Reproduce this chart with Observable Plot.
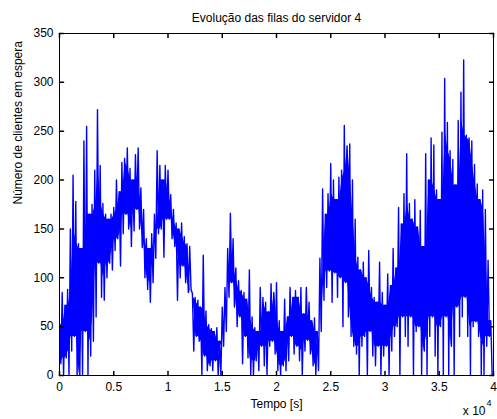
<!DOCTYPE html>
<html><head><meta charset="utf-8">
<script src="https://cdn.jsdelivr.net/npm/d3@7"></script>
<script src="https://cdn.jsdelivr.net/npm/@observablehq/plot@0.6"></script>
<style>html,body{margin:0;padding:0;background:#fff;} svg{display:block}</style>
</head><body><div id="chart"></div>
<script>
// Upper values of the queue per 250 s interval
const peakValues = [
  52, 85, 72, 88,   150, 205, 178, 135,   130, 240, 255, 165,   175, 210, 272, 215,
  176, 165, 160, 165,   172, 200, 188, 218,   222, 233, 212, 200,   226, 233, 192, 170,
  140, 130, 145, 165,   230, 215, 200, 215,   210, 185, 170, 156,   150, 156, 142, 135,
  132, 84, 80, 77,   70, 123, 66, 52,   48, 45, 49, 35,   70, 90, 130, 166,
  140, 110, 97, 87,   85, 78, 108, 60,   49, 45, 90, 80,   75, 65, 94, 85,
  95, 56, 45, 78,   60, 90, 80, 87,   80, 90, 63, 90,   75, 56, 59, 45,
  120, 191, 165, 186,   217, 200, 180, 203,   210, 256, 235, 237,   200, 160, 121, 108,
  116, 100, 128, 90,   80, 75, 116, 85,   72, 104, 92, 130,   110, 172, 155, 186,
  227, 176, 160, 180,   152, 169, 132, 227,   200, 243, 236, 190,   180, 249, 304, 259,
  230, 221, 195, 261,   290, 323, 246, 243,   240, 216, 196, 180,   190, 170, 118, 56
];
// Lower values of the queue per 250 s interval
const troughValues = [
  12, 0, 18, 0,   25, 40, 0, 0,   0, 45, 0, 20,   35, 60, 115, 80,
  77, 100, 115, 108,   128, 140, 112, 145,   165, 150, 132, 148,   170, 150, 131, 100,
  88, 75, 95, 120,   145, 150, 121, 160,   160, 140, 132, 77,   100, 112, 95, 85,
  88, 25, 40, 35,   0, 20, 5, 10,   5, 15, 0, 0,   30, 45, 80, 95,
  70, 50, 60, 12,   40, 18, 0, 0,   15, 5, 30, 10,   0, 30, 35, 22,
  5, 0, 10, 5,   15, 40, 22, 30,   15, 0, 25, 36,   22, 10, 0, 5,
  45, 77, 90, 107,   75, 105, 80, 100,   50, 95, 60, 40,   30, 22, 0, 30,
  40, 0, 45, 20,   10, 30, 0, 20,   30, 0, 25, 40,   50, 0, 60, 40,
  30, 60, 0, 45,   50, 0, 25, 0,   40, 60, 20, 0,   50, 0, 60, 0,
  30, 0, 70, 40,   60, 80, 40, 0,   50, 55, 40, 0,   0, 30, 40, 0
];
const stepSeconds = 250;

const xTicks = [0, 5000, 10000, 15000, 20000, 25000, 30000, 35000, 40000];
const xTickLabels = ["0", "0.5", "1", "1.5", "2", "2.5", "3", "3.5", "4"];
const yTicks = [0, 50, 100, 150, 200, 250, 300, 350];
const titleText = "Evolução das filas do servidor 4";
const xLabelText = "Tempo [s]";
const yLabelText = "Número de clientes em espera";
const exponentBase = "x 10";
const exponentValue = "4";

// Zig-zag series alternating between the read peaks and troughs
const series = [];
peakValues.forEach((v, i) => {
  series.push({t: i * stepSeconds, n: v});
  series.push({t: i * stepSeconds + stepSeconds / 2, n: troughValues[i]});
});

// Dense core of the oscillation: a 3-interval rolling window of the read values
const core = peakValues.map((v, i) => {
  const a = Math.max(0, i - 1), b = Math.min(peakValues.length - 1, i + 1);
  const top = d3.min(peakValues.slice(a, b + 1));
  const bottom = d3.max(troughValues.slice(a, b + 1));
  return {t: i * stepSeconds + stepSeconds / 4, top, bottom: Math.min(bottom, top)};
});

const tickShape = (dx, dy) => ({draw(c, l) { c.moveTo(0, 0); c.lineTo(dx * l, dy * l); }});

const chart = Plot.plot({
  width: 497,
  height: 419,
  marginLeft: 59,
  marginRight: 4,
  marginTop: 33,
  marginBottom: 44,
  style: {fontFamily: "'Liberation Sans', Arial, sans-serif", fontSize: "12px", color: "#000", background: "#fff"},
  x: {domain: [0, 40000], axis: null},
  y: {domain: [0, 350], axis: null},
  marks: [
    Plot.areaY(core, {x: "t", y1: "bottom", y2: "top", fill: "#0000ff", clip: true}),
    Plot.line(series, {x: "t", y: "n", stroke: "#0000ff", strokeWidth: 1.4, clip: true}),
    Plot.frame({stroke: "#000"}),
    Plot.vector(xTicks, {x: d => d, frameAnchor: "bottom", length: 4, anchor: "start", shape: tickShape(0, -1), stroke: "#000"}),
    Plot.vector(xTicks, {x: d => d, frameAnchor: "top", length: 4, anchor: "start", shape: tickShape(0, 1), stroke: "#000"}),
    Plot.vector(yTicks, {y: d => d, frameAnchor: "left", length: 4, anchor: "start", shape: tickShape(1, 0), stroke: "#000"}),
    Plot.vector(yTicks, {y: d => d, frameAnchor: "right", length: 4, anchor: "start", shape: tickShape(-1, 0), stroke: "#000"}),
    Plot.axisX(xTicks, {tickSize: 0, tickPadding: 7, label: null, tickFormat: d => xTickLabels[xTicks.indexOf(d)], fill: "#000"}),
    Plot.axisY(yTicks, {tickSize: 0, tickPadding: 6, label: null, fill: "#000"}),
    Plot.text([titleText], {frameAnchor: "top", dy: -15, lineAnchor: "middle", fill: "#000"}),
    Plot.text([xLabelText], {frameAnchor: "bottom", dy: 29, lineAnchor: "middle", fill: "#000"}),
    Plot.text([yLabelText], {frameAnchor: "left", dx: -41, rotate: -90, lineAnchor: "middle", fill: "#000"}),
    Plot.text([exponentBase], {frameAnchor: "bottom-right", textAnchor: "end", dx: -8, dy: 36, lineAnchor: "middle", fill: "#000"}),
    Plot.text([exponentValue], {frameAnchor: "bottom-right", textAnchor: "start", dx: -7, dy: 28, lineAnchor: "middle", fontSize: 9, fill: "#000"})
  ]
});
document.getElementById("chart").appendChild(chart);
</script>
</body></html>
